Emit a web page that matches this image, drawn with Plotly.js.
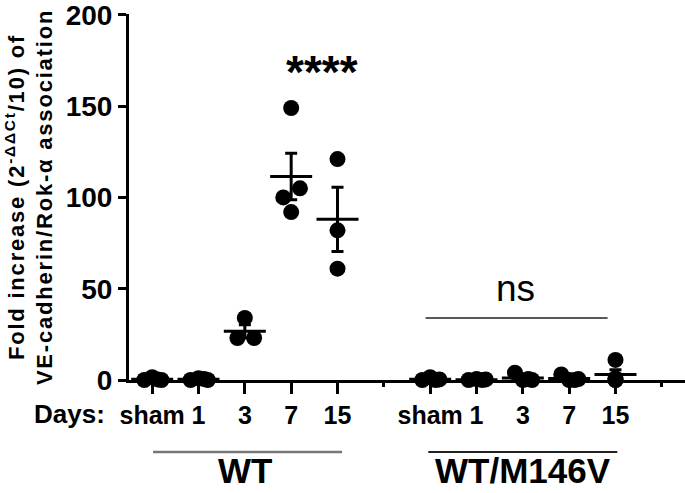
<!DOCTYPE html>
<html>
<head>
<meta charset="utf-8">
<script src="https://cdn.plot.ly/plotly-3.0.1.min.js"></script>
<style>html,body{margin:0;padding:0;background:#fff;}#chart{width:685px;height:493px;}
#chart .ytitle{letter-spacing:1.8px;}</style>
</head>
<body>
<div id="chart"></div>
<script>
// Category slots along the x axis (index 5 is the gap between genotypes)
const dayLabels = ["sham", "1", "3", "7", "15"];
const wtSlots = [0, 1, 2, 3, 4];
const mutSlots = [6, 7, 8, 9, 10];
const yTicks = [0, 50, 100, 150, 200];

// Individual values (fold increase)
const wtSham = [0, 1.5, 0.3, 0];
const wt1 = [0, 1, 0.5, 0];
const wt3 = [34, 23, 23];
const wt7 = [149, 105, 100, 92];
const wt15 = [121, 82, 61];

const mutSham = [0, 1.5, 0, 0.3];
const mut1 = [0, 0.5, 0, 0.3];
const mut3 = [4, 0, 0.5, 0];
const mut7 = [3, 0, 0, 0.5];
const mut15 = [0, 1, 11, 0];

// horizontal scatter of dots inside each group
const jitter4 = [-0.17, 0, 0.12, 0.2];
const jitter3 = [0, -0.16, 0.2];
const jitter7 = [0, 0.19, -0.17, 0];
const jitter15 = [0, 0, 0, 0];

const groups = [
  {slot: wtSlots[0], vals: wtSham, jit: jitter4},
  {slot: wtSlots[1], vals: wt1, jit: jitter4},
  {slot: wtSlots[2], vals: wt3, jit: jitter3},
  {slot: wtSlots[3], vals: wt7, jit: jitter7},
  {slot: wtSlots[4], vals: wt15, jit: jitter15},
  {slot: mutSlots[0], vals: mutSham, jit: jitter4},
  {slot: mutSlots[1], vals: mut1, jit: jitter4},
  {slot: mutSlots[2], vals: mut3, jit: jitter4},
  {slot: mutSlots[3], vals: mut7, jit: jitter4},
  {slot: mutSlots[4], vals: mut15, jit: jitter15}
];

function mean(a){return a.reduce((s,v)=>s+v,0)/a.length;}
function sem(a){const m=mean(a);const v=a.reduce((s,x)=>s+(x-m)*(x-m),0)/(a.length-1);return Math.sqrt(v/a.length);}

const px=[],py=[];
groups.forEach(g=>g.vals.forEach((v,i)=>{px.push(g.slot+g.jit[i]);py.push(v);}));

const mx=groups.map(g=>g.slot), my=groups.map(g=>mean(g.vals)), me=groups.map(g=>sem(g.vals));

const traces=[
  {type:'scatter',mode:'markers',x:px,y:py,cliponaxis:false,
   marker:{color:'#000',size:16,line:{width:0}},hoverinfo:'y',showlegend:false},
  {type:'scatter',mode:'markers',x:mx,y:my,cliponaxis:false,
   marker:{symbol:'line-ew',size:30,line:{width:3,color:'#000'},color:'#000'},
   error_y:{type:'data',array:me,visible:true,color:'#000',thickness:3,width:6},
   hoverinfo:'y',showlegend:false}
];

const tickvals=wtSlots.concat(mutSlots);
const ticktext=dayLabels.concat(dayLabels);
const F='Liberation Sans, Arial, sans-serif';

const layout={
  width:685,height:493,
  margin:{l:129,r:0,t:14,b:113},
  paper_bgcolor:'#fff',plot_bgcolor:'#fff',
  showlegend:false,
  font:{family:F,color:'#000'},
  xaxis:{range:[-0.5,11.5],showgrid:false,zeroline:false,showline:true,linewidth:3,linecolor:'#000',
    tickmode:'array',tickvals:tickvals,ticktext:ticktext,ticks:'outside',ticklen:11,tickwidth:3,tickcolor:'#000',
    tickfont:{family:F,size:25,color:'#000',weight:'bold'},ticklabeloverflow:'allow',
    minor:{tickmode:'array',tickvals:[5,11],ticks:'outside',ticklen:4,tickwidth:3,tickcolor:'#000'}},
  yaxis:{range:[0,200.5],showgrid:false,zeroline:false,showline:true,linewidth:3,linecolor:'#000',
    tickmode:'array',tickvals:yTicks,ticktext:yTicks.map(String),ticks:'outside',ticklen:8,tickwidth:3,tickcolor:'#000',
    tickfont:{family:F,size:28,color:'#000',weight:'bold'},ticklabeloverflow:'allow',
    title:{text:'Fold increase (2<sup>-ΔΔCt</sup>/10) of<br>VE-cadherin/Rok-α association',
      font:{family:F,size:22,color:'#000',weight:'bold'},standoff:7}},
  annotations:[
    {xref:'paper',yref:'paper',x:-0.04,y:-0.094,xanchor:'right',yanchor:'middle',showarrow:false,
     text:'Days:',font:{family:F,size:26,weight:'bold'}},
    {xref:'x',yref:'y',x:3.66,y:169,xanchor:'center',yanchor:'middle',showarrow:false,
     text:'****',font:{family:F,size:46,weight:'bold'}},
    {xref:'x',yref:'y',x:7.85,y:50,xanchor:'center',yanchor:'middle',showarrow:false,
     text:'ns',font:{family:F,size:37}},
    {xref:'x',yref:'paper',x:2,y:-0.307,xanchor:'center',yanchor:'bottom',showarrow:false,
     text:'WT',font:{family:F,size:35,weight:'bold'}},
    {xref:'x',yref:'paper',x:8,y:-0.307,xanchor:'center',yanchor:'bottom',showarrow:false,
     text:'WT/M146V',font:{family:F,size:35,weight:'bold'}}
  ],
  shapes:[
    {type:'line',xref:'x',yref:'y',x0:5.9,x1:9.83,y0:34,y1:34,line:{color:'#222',width:1.5}},
    {type:'line',xref:'x',yref:'paper',x0:0.02,x1:4.1,y0:-0.197,y1:-0.197,line:{color:'#777',width:2.5}},
    {type:'line',xref:'x',yref:'paper',x0:5.96,x1:10.04,y0:-0.197,y1:-0.197,line:{color:'#222',width:2}}
  ]
};

Plotly.newPlot('chart',traces,layout,{displayModeBar:false,staticPlot:true});
</script>
</body>
</html>
